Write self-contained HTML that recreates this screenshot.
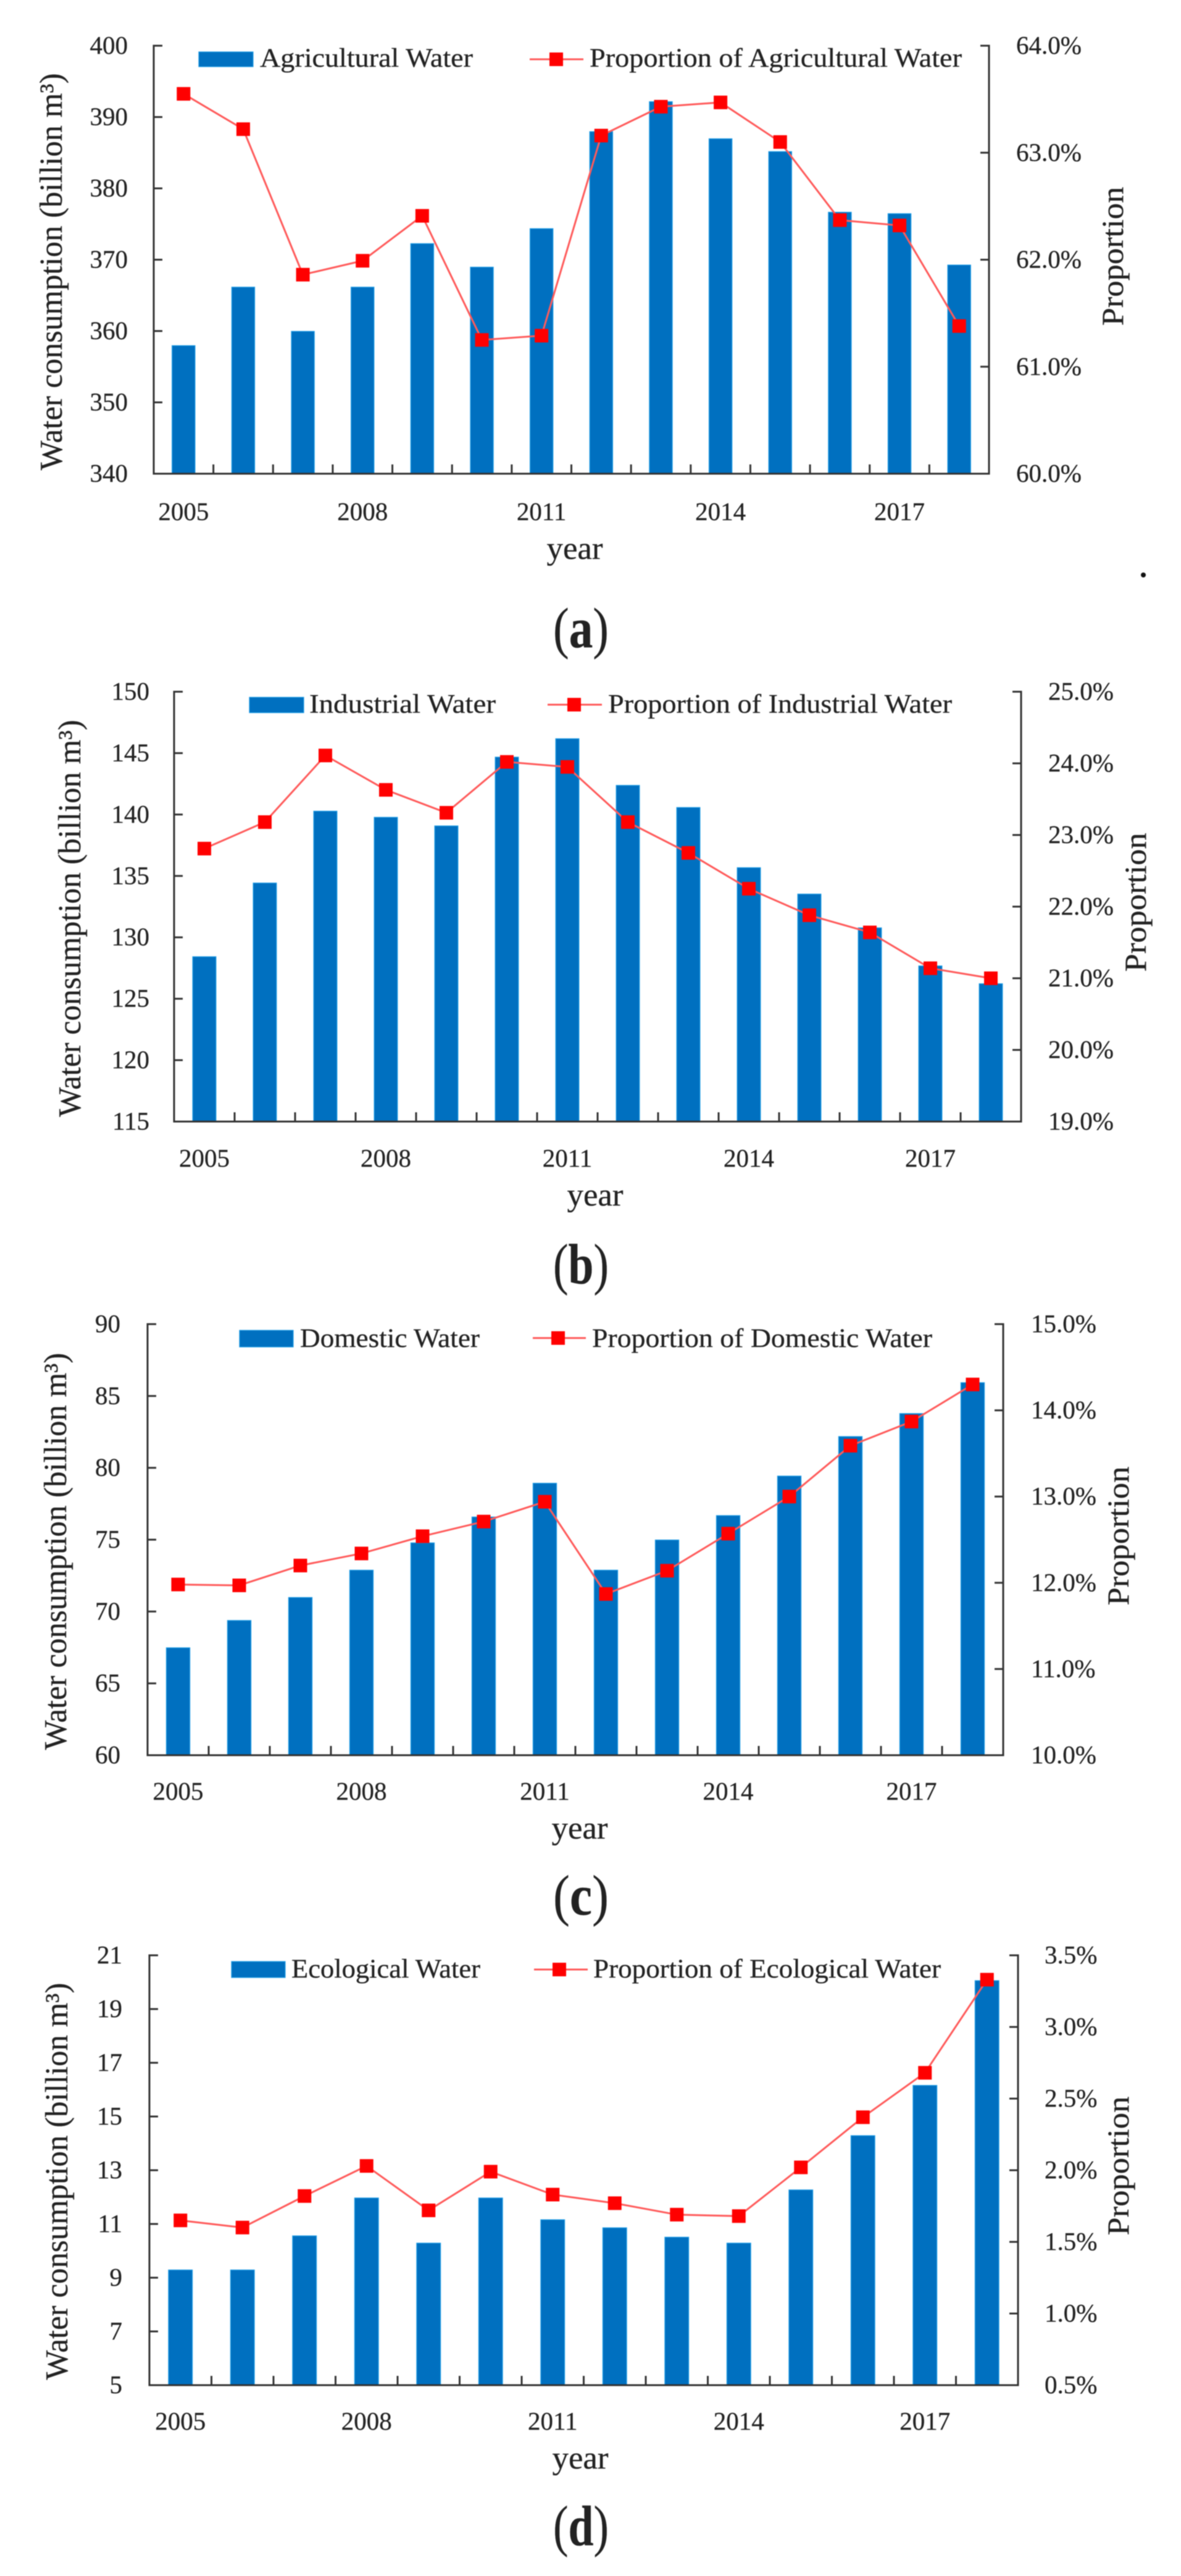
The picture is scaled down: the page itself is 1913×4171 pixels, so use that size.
<!DOCTYPE html>
<html lang="en">
<head>
<meta charset="utf-8">
<title>Water consumption and proportion by sector, 2005–2018</title>
<style>
  html, body { margin: 0; padding: 0; background: #fff; }
  #figure { display: block; width: 1913px; height: 4171px; filter: blur(0.7px); }
  text { font-family: "Liberation Serif", serif; fill: #222; stroke: #222; stroke-width: 0.3px; }
</style>
</head>
<body>
<svg id="figure" xmlns="http://www.w3.org/2000/svg" width="1913" height="4171" viewBox="0 0 1913 4171"></svg>
<script>
// ---------- data ----------
const years = [2005, 2006, 2007, 2008, 2009, 2010, 2011, 2012, 2013, 2014, 2015, 2016, 2017, 2018];
const labelledYears = [2005, 2008, 2011, 2014, 2017];

const agriculturalWater = [358, 366.2, 360, 366.2, 372.3, 369, 374.4, 388, 392.2, 387, 385.2, 376.7, 376.5, 369.3];
const agriculturalShare = [63.55, 63.22, 61.86, 61.99, 62.41, 61.25, 61.29, 63.16, 63.43, 63.47, 63.10, 62.37, 62.32, 61.38];
const agriculturalLeftTicks = [340, 350, 360, 370, 380, 390, 400];
const agriculturalRightTicks = [60, 61, 62, 63, 64];

const industrialWater = [128.45, 134.45, 140.3, 139.8, 139.1, 144.7, 146.2, 142.4, 140.6, 135.7, 133.55, 130.8, 127.7, 126.25];
const industrialShare = [22.81, 23.18, 24.11, 23.63, 23.31, 24.02, 23.95, 23.18, 22.75, 22.25, 21.88, 21.64, 21.14, 21.0];
const industrialLeftTicks = [115, 120, 125, 130, 135, 140, 145, 150];
const industrialRightTicks = [19, 20, 21, 22, 23, 24, 25];

const domesticWater = [67.5, 69.4, 71, 72.9, 74.8, 76.6, 78.95, 72.9, 75, 76.7, 79.45, 82.2, 83.8, 85.95];
const domesticShare = [11.98, 11.97, 12.2, 12.34, 12.54, 12.71, 12.94, 11.87, 12.14, 12.57, 13.0, 13.59, 13.87, 14.3];
const domesticLeftTicks = [60, 65, 70, 75, 80, 85, 90];
const domesticRightTicks = [10, 11, 12, 13, 14, 15];

const ecologicalWater = [9.3, 9.3, 10.57, 11.98, 10.3, 11.98, 11.17, 10.87, 10.52, 10.3, 12.28, 14.3, 16.17, 20.07];
const ecologicalShare = [1.65, 1.6, 1.82, 2.03, 1.72, 1.99, 1.83, 1.77, 1.69, 1.68, 2.02, 2.37, 2.68, 3.33];
const ecologicalLeftTicks = [5, 7, 9, 11, 13, 15, 17, 19, 21];
const ecologicalRightTicks = [0.5, 1, 1.5, 2, 2.5, 3, 3.5];

// ---------- layout ----------
const panels = [
  { id: 'agricultural', panel: 'a', barName: 'Agricultural Water', lineName: 'Proportion of Agricultural Water',
    bars: agriculturalWater, line: agriculturalShare, leftTicks: agriculturalLeftTicks, rightTicks: agriculturalRightTicks,
    L: 249, R: 1602, T: 74, B: 767, tickEdge: 207, rightLabel: 1646, xBase: 842, yearX: 931, yearBase: 905,
    swatch: [322, 410, 84, 108], legBase: 108, leg1: [421, 345], lineSample: [858, 945, 96], marker: 901, leg2: [955, 603],
    leftTitle: [100, 440], rightTitle: [1819, 415], panelBase: 1048 },
  { id: 'industrial', panel: 'b', barName: 'Industrial Water', lineName: 'Proportion of Industrial Water',
    bars: industrialWater, line: industrialShare, leftTicks: industrialLeftTicks, rightTicks: industrialRightTicks,
    L: 282, R: 1654, T: 1120, B: 1816, tickEdge: 242, rightLabel: 1698, xBase: 1889, yearX: 964, yearBase: 1952,
    swatch: [404, 492, 1129, 1154], legBase: 1154, leg1: [501, 302], lineSample: [887, 975, 1141], marker: 930, leg2: [985, 557],
    leftTitle: [130, 1487], rightTitle: [1856, 1461], panelBase: 2078 },
  { id: 'domestic', panel: 'c', barName: 'Domestic Water', lineName: 'Proportion of Domestic Water',
    bars: domesticWater, line: domesticShare, leftTicks: domesticLeftTicks, rightTicks: domesticRightTicks,
    L: 239, R: 1625, T: 2144, B: 2842, tickEdge: 195, rightLabel: 1670, xBase: 2914, yearX: 939, yearBase: 2977,
    swatch: [388, 475, 2154, 2181], legBase: 2181, leg1: [486, 291], lineSample: [863, 949, 2166.5], marker: 904, leg2: [959, 551],
    leftTitle: [107, 2512], rightTitle: [1828, 2487], panelBase: 3100 },
  { id: 'ecological', panel: 'd', barName: 'Ecological Water', lineName: 'Proportion of Ecological Water',
    bars: ecologicalWater, line: ecologicalShare, leftTicks: ecologicalLeftTicks, rightTicks: ecologicalRightTicks,
    L: 242, R: 1649, T: 3166, B: 3862, tickEdge: 198, rightLabel: 1692, xBase: 3934, yearX: 940, yearBase: 3997,
    swatch: [375, 462, 3176, 3202], legBase: 3202, leg1: [472, 306], lineSample: [865, 952, 3189], marker: 906, leg2: [961, 563],
    leftTitle: [109, 3532], rightTitle: [1828, 3507], panelBase: 4121 }
];

// ---------- drawing ----------
const SVG_NS = 'http://www.w3.org/2000/svg';
const root = document.getElementById('figure');
const AXIS = '#333';
const BAR = '#0070c0';
const BAR_EDGE = '#1f9de6';
const LINE = '#ff5a5a';
const MARK = '#ff0000';

function make(tag, parent, name, attrs) {
  const el = document.createElementNS(SVG_NS, tag);
  
  
  for (const key in attrs) el.setAttribute(key, attrs[key]);
  parent.appendChild(el);
  return el;
}

function label(parent, name, str, attrs) {
  const el = make('text', parent, name, attrs);
  el.textContent = str;
  return el;
}

function rule(parent, name, x1, y1, x2, y2, width, color) {
  return make('line', parent, name, { x1, y1, x2, y2, stroke: color || AXIS, 'stroke-width': width || 3 });
}

function square(parent, name, cx, cy) {
  return make('rect', parent, name, { x: cx - 11, y: cy - 11, width: 22, height: 22, fill: MARK });
}

function linearScale(domainMin, domainMax, rangeMin, rangeMax) {
  return v => rangeMin + (v - domainMin) / (domainMax - domainMin) * (rangeMax - rangeMin);
}

function drawPanel(p) {
  const g = make('g', root, 'chart-' + p.id, {});
  const band = (p.R - p.L) / years.length;
  const xOf = i => p.L + band * (i + 0.5);
  const barWidth = band * 0.385;
  const yLeft = linearScale(p.leftTicks[0], p.leftTicks[p.leftTicks.length - 1], p.B, p.T);
  const yRight = linearScale(p.rightTicks[0], p.rightTicks[p.rightTicks.length - 1], p.B, p.T);

  // bars
  p.bars.forEach((v, i) => {
    const top = yLeft(v);
    make('rect', g, 'bar-' + years[i], { x: xOf(i) - barWidth / 2, y: top + 0.5, width: barWidth, height: p.B - top - 0.5, fill: BAR, stroke: BAR_EDGE, 'stroke-width': 1.2 });
  });

  // axes
  rule(g, 'left-axis', p.L, p.T - 1.5, p.L, p.B + 1.5);
  rule(g, 'right-axis', p.R, p.T - 1.5, p.R, p.B + 1.5);
  rule(g, 'x-axis', p.L, p.B, p.R, p.B);

  p.leftTicks.forEach(t => {
    const y = yLeft(t);
    rule(g, 'left-tick-' + t, p.L, y, p.L + 14, y);
    label(g, 'left-tick-label-' + t, String(t), { x: p.tickEdge, y: y + 13, 'font-size': 41, 'text-anchor': 'end' });
  });
  p.rightTicks.forEach(t => {
    const y = yRight(t);
    rule(g, 'right-tick-' + t, p.R - 14, y, p.R, y);
    label(g, 'right-tick-label-' + t, t.toFixed(1) + '%', { x: p.rightLabel, y: y + 13, 'font-size': 41 });
  });
  for (let i = 0; i <= years.length; i++) {
    const x = p.L + band * i;
    rule(g, 'x-tick-' + i, x, p.B - 15, x, p.B);
  }
  labelledYears.forEach(year => {
    const i = years.indexOf(year);
    label(g, 'x-tick-label-' + year, String(year), { x: xOf(i), y: p.xBase, 'font-size': 41, 'text-anchor': 'middle' });
  });

  // proportion line
  const pts = p.line.map((v, i) => xOf(i) + ',' + yRight(v)).join(' ');
  make('polyline', g, 'proportion-line', { points: pts, fill: 'none', stroke: LINE, 'stroke-width': 3 });
  p.line.forEach((v, i) => {
    square(g, 'proportion-point-' + years[i], xOf(i), yRight(v));
  });

  // titles
  label(g, 'x-axis-title', 'year', { x: p.yearX, y: p.yearBase, 'font-size': 52, 'text-anchor': 'middle', textLength: 91, lengthAdjust: 'spacingAndGlyphs' });
  label(g, 'left-axis-title', 'Water consumption (billion m³)', {
    x: p.leftTitle[0], y: p.leftTitle[1], 'font-size': 52, 'text-anchor': 'middle', textLength: 643, lengthAdjust: 'spacingAndGlyphs',
    transform: 'rotate(-90 ' + p.leftTitle[0] + ' ' + p.leftTitle[1] + ')'
  });
  label(g, 'right-axis-title', 'Proportion', {
    x: p.rightTitle[0], y: p.rightTitle[1], 'font-size': 50, 'text-anchor': 'middle', textLength: 225, lengthAdjust: 'spacingAndGlyphs',
    transform: 'rotate(-90 ' + p.rightTitle[0] + ' ' + p.rightTitle[1] + ')'
  });

  // legend
  const leg = make('g', g, 'legend', {});
  make('rect', leg, 'legend-bar-swatch', { x: p.swatch[0], y: p.swatch[2], width: p.swatch[1] - p.swatch[0], height: p.swatch[3] - p.swatch[2], fill: BAR, stroke: BAR_EDGE, 'stroke-width': 1.2 });
  label(leg, 'legend-bar-label', p.barName, { x: p.leg1[0], y: p.legBase, 'font-size': 43, textLength: p.leg1[1], lengthAdjust: 'spacingAndGlyphs' });
  rule(leg, 'legend-line-sample', p.lineSample[0], p.lineSample[2], p.lineSample[1], p.lineSample[2], 3, LINE);
  square(leg, 'legend-line-marker', p.marker, p.lineSample[2]);
  label(leg, 'legend-line-label', p.lineName, { x: p.leg2[0], y: p.legBase, 'font-size': 43, textLength: p.leg2[1], lengthAdjust: 'spacingAndGlyphs' });

  // panel letter
  const letter = label(root, 'panel-label-' + p.panel, '(', { x: 941, y: p.panelBase, 'font-size': 92, 'text-anchor': 'middle', textLength: 90, lengthAdjust: 'spacingAndGlyphs' });
  const bold = document.createElementNS(SVG_NS, 'tspan');
  
  
  bold.setAttribute('font-weight', 'bold');
  bold.textContent = p.panel;
  letter.appendChild(bold);
  letter.appendChild(document.createTextNode(')'));
}

panels.forEach(drawPanel);
make('circle', root, 'stray-period-mark', { cx: 1852, cy: 931, r: 4, fill: '#111' });
</script>
</body>
</html>
